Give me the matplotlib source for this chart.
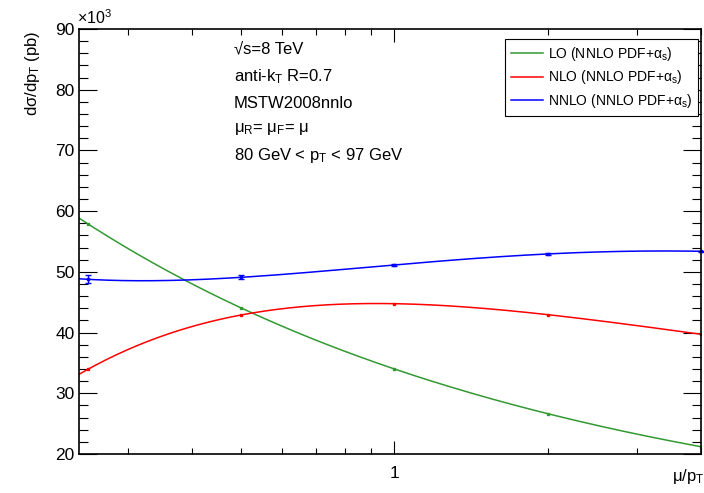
import matplotlib.pyplot as plt
import numpy as np
from matplotlib.lines import Line2D
from matplotlib.ticker import FixedLocator, FixedFormatter, NullFormatter

plt.rcParams['font.family'] = ['Liberation Sans', 'DejaVu Sans']
plt.rcParams['mathtext.default'] = 'regular'



# Scale dependence of the cross section (values in units of 10^3 pb)
mu_over_pt = [0.25, 0.5, 1.0, 2.0, 4.0]
xs_lo = [57.9, 44.05, 34.0, 26.64, 21.2]
xs_nlo = [33.95, 42.9, 44.76, 42.95, 39.72]
xs_nnlo = [48.77, 49.1, 51.14, 52.95, 53.39]
xs_nnlo_err = [0.63, 0.35, 0.2, 0.15, 0.12]

labels = [r'LO (NNLO PDF+$\alpha_s$)', r'NLO (NNLO PDF+$\alpha_s$)', r'NNLO (NNLO PDF+$\alpha_s$)']
colors = ['#339933', '#ff0000', '#0000ff']

info_lines = [r'√s=8 TeV', r'anti-k$_T$ R=0.7', 'MSTW2008nnlo', r'$\mu_R$= $\mu_F$= $\mu$', r'80 GeV < $p_T$ < 97 GeV']
info_y = [49, 77, 104, 129, 156]

x_min = 0.2401
x_max = 4.0



fig = plt.figure(figsize=(7.04, 4.93), dpi=100)
ax = fig.add_axes([79/704, 1 - 454/493, (701 - 79)/704, (454 - 29)/493])

# Smooth curve through the points (polynomial in log(mu)), like ROOT's smoothed graph
mu_fine = np.geomspace(x_min, x_max, 300)
for values, color in zip([xs_lo, xs_nlo, xs_nnlo], colors):
	coeffs = np.polyfit(np.log(mu_over_pt), values, 4)
	ax.plot(mu_fine, np.polyval(coeffs, np.log(mu_fine)), color=color, lw=1.1)

ax.plot(mu_over_pt, xs_lo, ls='none', marker='s', ms=2, color=colors[0])
ax.plot(mu_over_pt, xs_nlo, ls='none', marker='s', ms=2, color=colors[1])
ax.errorbar(mu_over_pt, xs_nnlo, yerr=xs_nnlo_err, ls='none', marker='s', ms=2, color=colors[2], capsize=2, elinewidth=1, capthick=1, clip_on=False)

# Axes
ax.set_xscale('log')
ax.set_xlim(x_min, x_max)
ax.set_ylim(20, 90)
ax.xaxis.set_major_locator(FixedLocator([1]))
ax.xaxis.set_major_formatter(FixedFormatter(['1']))
ax.xaxis.set_minor_locator(FixedLocator([0.3, 0.4, 0.5, 0.6, 0.7, 0.8, 0.9, 2, 3, 4]))
ax.xaxis.set_minor_formatter(NullFormatter())
ax.set_yticks(np.arange(20, 91, 10))
ax.set_yticks(np.arange(20, 91, 2), minor=True)

ax.tick_params(axis='both', which='both', direction='in', width=0.8, labelsize=12.5)
ax.tick_params(axis='x', which='major', length=9.5, pad=8.5, top=True, bottom=True)
ax.tick_params(axis='x', which='minor', length=4.5, top=True, bottom=True)
ax.tick_params(axis='y', which='major', length=13, pad=3, left=True, right=True)
ax.tick_params(axis='y', which='minor', length=6.5, left=True, right=True)
for spine in ax.spines.values():
	spine.set_linewidth(1.2)

# Axis titles
fig.text(33/704, 1 - 30/493, r'd$\sigma$/dp$_T$ (pb)', rotation=90, ha='center', va='top', fontsize=12)
fig.text(77/704, 1 - 27/493, r'$\times10^{3}$', ha='left', va='bottom', fontsize=11.5)
fig.text(672/704, 1 - 481/493, r'$\mu/p_T$', ha='left', va='baseline', fontsize=12)

# Info text
for text, y in zip(info_lines, info_y):
	fig.text(234/704, 1 - y/493, text, ha='left', va='center', fontsize=12)

# Legend
handles = [Line2D([], [], color=c, lw=1.1) for c in colors]
leg = fig.legend(handles, labels, loc='upper right', bbox_to_anchor=(698/704, 1 - 39/493), fontsize=10,
	handlelength=2.3, handletextpad=0.36, labelspacing=0.42, borderpad=0.4, borderaxespad=0,
	fancybox=False, framealpha=1, edgecolor='black')
leg.get_frame().set_linewidth(0.8)

fig.savefig('out.png', dpi=100)
